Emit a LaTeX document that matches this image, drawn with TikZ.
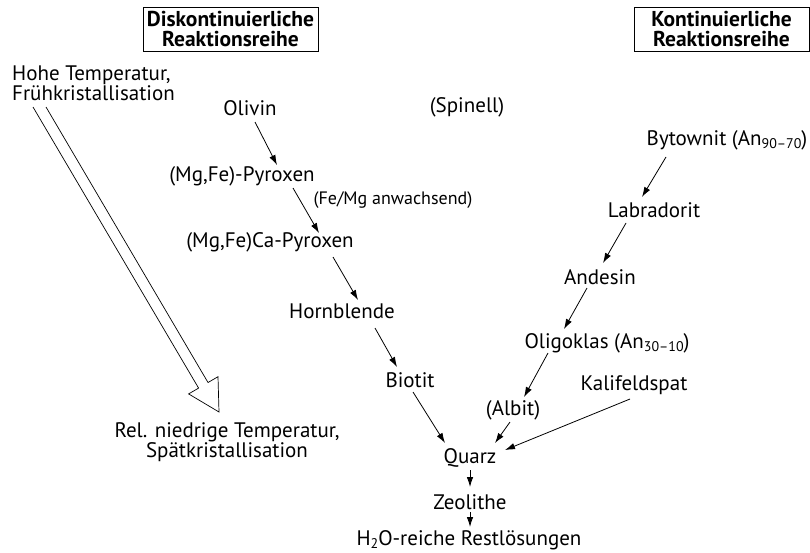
\documentclass[tikz,border=0pt]{standalone}
\usepackage{fontspec}
\setmainfont{PT Sans}
\usetikzlibrary{calc,arrows.meta}
\newcommand{\subsc}[1]{\raisebox{-3pt}{\fontsize{14}{14}\selectfont #1}}
\begin{document}
\begin{tikzpicture}[x=1pt,y=-1pt,
  lbl/.style={inner sep=0pt,font=\fontsize{21}{17.5}\selectfont},
  small/.style={inner sep=0pt,font=\fontsize{18}{18}\selectfont},
  title/.style={draw,line width=0.8pt,inner sep=0pt,minimum width=175pt,minimum height=44pt,align=center,font=\fontsize{21.5}{19.5}\selectfont\bfseries},
  arr/.style={line width=0.8pt,-{Latex[length=10pt,width=6.5pt]}},
  dbl/.style={line width=0.7pt}]
\useasboundingbox (0,0) rectangle (810,552);
\node[title] (t1) at (230.5,29) {Diskontinuierliche\\Reaktionsreihe};
\node[title] (t2) at (721.5,29) {Kontinuierliche\\Reaktionsreihe};
\node[lbl,align=left,anchor=west] (hohe) at (12,83) {Hohe Temperatur,\\Frühkristallisation};
\node[lbl,align=center] (rel) at (227,442) {Rel. niedrige Temperatur,\\Spätkristallisation};
\node[lbl] (olivin) at (250,108) {Olivin};
\node[lbl] (spinell) at (467,107) {(Spinell)};
\node[lbl] (pyr) at (242,176) {(Mg,Fe)-Pyroxen};
\node[small] (femg) at (393,200) {(Fe/Mg anwachsend)};
\node[lbl] (capyr) at (270,242) {(Mg,Fe)Ca-Pyroxen};
\node[lbl] (horn) at (342,311) {Hornblende};
\node[lbl] (biotit) at (410,380) {Biotit};
\node[lbl] (quarz) at (470,458) {Quarz};
\node[lbl] (zeol) at (470,502) {Zeolithe};
\node[lbl] (h2o) at (469,540) {H\subsc{2}O-reiche Restlösungen};
\node[lbl] (byt) at (727,140) {Bytownit (An\subsc{90–70})};
\node[lbl] (lab) at (654,210) {Labradorit};
\node[lbl] (and) at (600,277) {Andesin};
\node[lbl] (olig) at (607,343) {Oligoklas (An\subsc{30–10})};
\node[lbl] (albit) at (513,410) {(Albit)};
\node[lbl] (kali) at (634,385) {Kalifeldspat};
% arrows
\draw[arr] ($(olivin)+(5,14)$) -- ($(pyr)+(35,-11)$);
\draw[arr] ($(pyr)+(51,12)$) -- ($(capyr)+(49,-9)$);
\draw[arr] ($(capyr)+(63,15)$) -- ($(horn)+(16,-11)$);
\draw[arr] ($(horn)+(33,17)$) -- ($(biotit)+(-13,-13)$);
\draw[arr] ($(biotit)+(3,12)$) -- ($(quarz)+(-25,-15)$);
\draw[arr] ($(albit)+(-3,12)$) -- ($(quarz)+(25,-15)$);
\draw[arr] ($(kali)+(-4,14)$) -- ($(quarz)+(35,-8)$);
\draw[arr] ($(quarz)+(0,12)$) -- ($(zeol)+(0,-15)$);
\draw[arr] ($(zeol)+(0,10)$) -- ($(h2o)+(1,-13)$);
\draw[arr] ($(byt)+(-61,17)$) -- ($(lab)+(-12,-13)$);
\draw[arr] ($(lab)+(-28,13)$) -- ($(and)+(3,-14)$);
\draw[arr] ($(and)+(-13,11)$) -- ($(olig)+(-43,-14)$);
\draw[arr] ($(olig)+(-59,10)$) -- ($(albit)+(11,-13)$);
% big hollow arrow
\coordinate (s1) at ($(hohe.west)+(21,24)$);
\coordinate (s2) at ($(hohe.west)+(34,24)$);
\coordinate (tip) at ($(rel)+(-8,-30)$);
\draw[dbl] (s1) -- (198.6,388.1);
\draw[dbl] (s2) -- (208,382.5);
\draw[dbl,line join=miter] (198.6,388.1) -- (188.6,393.9) -- (tip) -- (218,376.7) -- (208,382.5);
\end{tikzpicture}
\end{document}
